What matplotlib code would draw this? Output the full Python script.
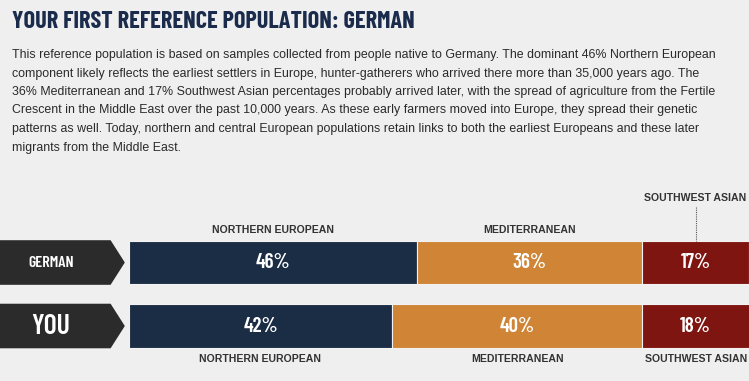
import numpy as np
import matplotlib.pyplot as plt
from matplotlib.patches import Polygon

# data
rows = ['GERMAN', 'YOU']
components = ['NORTHERN EUROPEAN', 'MEDITERRANEAN', 'SOUTHWEST ASIAN']
german = [46, 36, 17]
you = [42, 40, 18]
colors = ['#1b2d45', '#cf8535', '#7e1510']

title = 'YOUR FIRST REFERENCE POPULATION: GERMAN'
body = [
    'This reference population is based on samples collected from people native to Germany. The dominant 46% Northern European',
    'component likely reflects the earliest settlers in Europe, hunter-gatherers who arrived there more than 35,000 years ago. The',
    '36% Mediterranean and 17% Southwest Asian percentages probably arrived later, with the spread of agriculture from the Fertile',
    'Crescent in the Middle East over the past 10,000 years. As these early farmers moved into Europe, they spread their genetic',
    'patterns as well. Today, northern and central European populations retain links to both the earliest Europeans and these later',
    'migrants from the Middle East.',
]

narrow = ['Barlow Condensed', 'Oswald', 'Asap Condensed', 'DejaVu Sans']
plain = ['Liberation Sans', 'DejaVu Sans']

W, H = 749, 381
bg = '#efefef'
fig = plt.figure(figsize=(W / 100, H / 100), dpi=100, facecolor=bg)

fig.text(12 / W, 1 - 22 / H, title, fontsize=17.5, fontweight='bold', family=narrow,
         color='#1a2b4b', va='center', ha='left')
for i, line in enumerate(body):
    fig.text(12 / W, 1 - (55 + 18.5 * i) / H, line, fontsize=8.9, family=plain,
             color='#2a2a2a', va='center', ha='left')

ax = fig.add_axes([129 / W, 0, 620 / W, 1])
ax.set_facecolor('none')
xmax = 620 / 6.26
ax.set_xlim(0, xmax)
ax.set_ylim(1.866, -4.134)
ax.axis('off')


def mids(vals):
    # centre of the visible part of each segment
    left = np.concatenate([[0], np.cumsum(vals)[:-1]])
    right = np.minimum(left + np.array(vals), xmax)
    return left, (left + right) / 2


data = [german, you]
bh = 0.68
for r, vals in enumerate(data):
    left, mid = mids(vals)
    ax.barh([r] * 3, vals, left=left, height=bh, color=colors,
            edgecolor='#f2f2f2', linewidth=0.8)
    for v, m in zip(vals, mid):
        ax.text(m, r, f'{v}%', color='white', fontsize=15, fontweight='semibold',
                family=narrow, ha='center', va='center')

    # arrow label on the left
    y0, y1 = r - bh / 2, r + bh / 2
    pts = [(-20.7, y0), (-3.0, y0), (-0.8, r), (-3.0, y1), (-20.7, y1)]
    ax.add_patch(Polygon(pts, closed=True, color='#2b2b2b', clip_on=False))
    ax.text(-12.45, r, rows[r], color='white', fontweight='semibold', family=narrow,
            fontsize=11.5 if r == 0 else 20, ha='center', va='center', clip_on=False)

# component labels: above German bar, below YOU bar
_, gm = mids(german)
_, ym = mids(you)
lab_kw = dict(fontsize=7.6, fontweight='bold', family=plain, color='#333333',
              ha='center')
for k, name in enumerate(components):
    if k < 2:
        ax.text(gm[k], -bh / 2 - 0.1, name, va='bottom', **lab_kw)
    else:
        ax.text(gm[k], -1.02, name, va='center', **lab_kw)
        ax.plot([gm[k], gm[k]], [-0.88, -bh / 2], color='#555555', lw=0.8, ls=(0, (1, 1)))
    ax.text(ym[k], 1 + bh / 2 + 0.1, name, va='top', **lab_kw)

fig.savefig('out.png', dpi=100, facecolor=bg)
